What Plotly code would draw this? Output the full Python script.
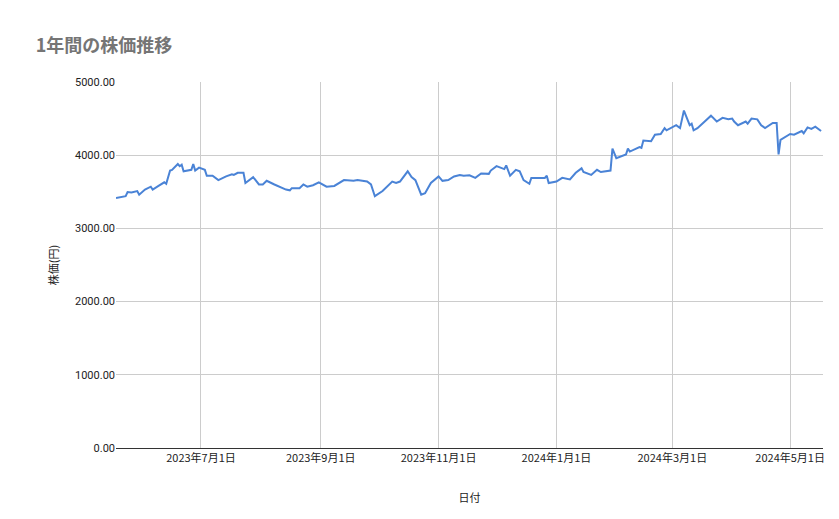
import plotly.graph_objects as go

dates = ["2023-05-18","2023-05-23","2023-05-24","2023-05-26","2023-05-29","2023-05-30","2023-06-02","2023-06-05","2023-06-06","2023-06-08","2023-06-09","2023-06-12","2023-06-13","2023-06-15","2023-06-16","2023-06-19","2023-06-20","2023-06-21","2023-06-22","2023-06-26","2023-06-27","2023-06-28","2023-06-30","2023-07-03","2023-07-04","2023-07-07","2023-07-10","2023-07-14","2023-07-17","2023-07-18","2023-07-20","2023-07-23","2023-07-24","2023-07-28","2023-07-31","2023-08-02","2023-08-04","2023-08-08","2023-08-14","2023-08-16","2023-08-17","2023-08-21","2023-08-23","2023-08-25","2023-08-28","2023-08-31","2023-09-04","2023-09-08","2023-09-11","2023-09-13","2023-09-18","2023-09-20","2023-09-25","2023-09-27","2023-09-29","2023-10-03","2023-10-08","2023-10-10","2023-10-12","2023-10-16","2023-10-18","2023-10-20","2023-10-23","2023-10-25","2023-10-28","2023-11-01","2023-11-03","2023-11-06","2023-11-09","2023-11-12","2023-11-14","2023-11-17","2023-11-20","2023-11-23","2023-11-27","2023-11-28","2023-12-01","2023-12-05","2023-12-06","2023-12-08","2023-12-11","2023-12-13","2023-12-15","2023-12-18","2023-12-19","2023-12-26","2023-12-27","2023-12-28","2024-01-01","2024-01-04","2024-01-08","2024-01-11","2024-01-14","2024-01-15","2024-01-19","2024-01-22","2024-01-24","2024-01-29","2024-01-30","2024-02-01","2024-02-06","2024-02-07","2024-02-08","2024-02-13","2024-02-14","2024-02-15","2024-02-19","2024-02-21","2024-02-24","2024-02-26","2024-02-27","2024-03-03","2024-03-05","2024-03-07","2024-03-10","2024-03-11","2024-03-12","2024-03-14","2024-03-21","2024-03-24","2024-03-27","2024-03-30","2024-04-01","2024-04-02","2024-04-04","2024-04-08","2024-04-09","2024-04-11","2024-04-14","2024-04-16","2024-04-18","2024-04-22","2024-04-24","2024-04-25","2024-04-26","2024-05-01","2024-05-03","2024-05-07","2024-05-08","2024-05-10","2024-05-12","2024-05-14","2024-05-17"]
prices = [3415,3440,3497,3490,3510,3460,3530,3570,3530,3570,3580,3630,3610,3790,3800,3880,3850,3870,3780,3800,3880,3790,3830,3800,3720,3720,3660,3710,3740,3730,3760,3760,3620,3700,3600,3600,3650,3600,3530,3520,3550,3550,3600,3570,3590,3630,3570,3580,3630,3660,3650,3660,3640,3600,3440,3510,3640,3620,3640,3780,3700,3660,3460,3480,3620,3710,3650,3660,3710,3730,3720,3725,3690,3750,3745,3790,3850,3810,3860,3720,3800,3780,3660,3610,3690,3690,3720,3620,3640,3690,3670,3760,3820,3770,3730,3800,3770,3790,4090,3960,4010,4090,4050,4110,4100,4200,4190,4280,4290,4370,4340,4410,4370,4610,4410,4430,4340,4370,4540,4460,4510,4490,4500,4460,4410,4460,4430,4500,4490,4410,4370,4440,4440,4010,4210,4290,4280,4330,4300,4380,4360,4390,4330]

tick_vals = ["2023-07-01","2023-09-01","2023-11-01","2024-01-01","2024-03-01","2024-05-01"]
tick_text = ["2023年7月1日","2023年9月1日","2023年11月1日","2024年1月1日","2024年3月1日","2024年5月1日"]

fig = go.Figure(go.Scatter(x=dates, y=prices, mode="lines",
                           line=dict(color="#4a83d6", width=2)))
font = "Noto Sans CJK JP"
fig.update_layout(
    width=839, height=519, plot_bgcolor="white", paper_bgcolor="white",
    margin=dict(l=108, r=24, t=74, b=79, autoexpand=False),
    title=dict(text="<b>1年間の株価推移</b>", x=0.033, xanchor="left", y=0.927, yanchor="middle",
               font=dict(family=font, size=18, color="#757575")),
    font=dict(family="Roboto", size=11, color="#222222"),
    showlegend=False,
)
fig.update_xaxes(range=["2023-05-18","2024-05-18"], tickvals=tick_vals, ticktext=tick_text,
                 showgrid=True, gridcolor="#cccccc", showline=True, linecolor="#333333",
                 tickfont=dict(family=font, size=11), automargin=False,
                 title=dict(text="日付", font=dict(family=font, size=11), standoff=30), ticks="")
fig.update_yaxes(range=[0,5000], tickvals=[0,1000,2000,3000,4000,5000], tickformat=".2f",
                 showgrid=True, gridcolor="#cccccc", zeroline=False, automargin=False,
                 title=dict(text="株価(円)", font=dict(family=font, size=11), standoff=14), ticks="")
fig.write_html("out.html")
